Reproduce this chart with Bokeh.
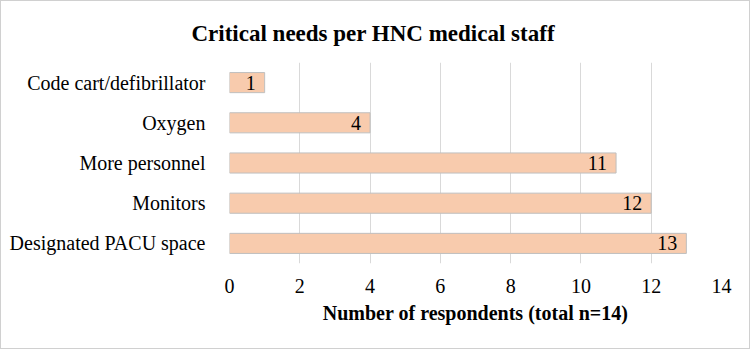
from bokeh.plotting import figure
from bokeh.models import ColumnDataSource, FactorRange, Range1d, FixedTicker, LabelSet
from bokeh.embed import file_html
from bokeh.resources import INLINE

categories = ["Code cart/defibrillator", "Oxygen", "More personnel", "Monitors", "Designated PACU space"]
values = [1, 4, 11, 12, 13]
x_ticks = [0, 2, 4, 6, 8, 10, 12, 14]

FONT = "Liberation Serif"

src = ColumnDataSource(data=dict(cat=categories, val=values, lbl=[str(v) for v in values]))

p = figure(width=750, height=349, output_backend="svg", toolbar_location=None,
           y_range=FactorRange(factors=list(reversed(categories)), range_padding=0),
           x_range=Range1d(0, 14),
           min_border_left=228, min_border_right=30, min_border_top=60, min_border_bottom=87,
           styles={"border": "1px solid #d0d0d0", "box-sizing": "border-box"})

p.hbar(y="cat", right="val", left=0, height=0.5, source=src,
       fill_color="#F8CBAD", line_color="#BFBFBF", line_width=1)

labels = LabelSet(x="val", y="cat", text="lbl", source=src, text_align="right",
                  text_baseline="middle", x_offset=-9, text_font=FONT,
                  text_font_size="20px", text_color="#000000")
p.add_layout(labels)

p.title.text = "Critical needs per HNC medical staff"
p.title.text_font = FONT
p.title.text_font_size = "23px"
p.title.text_font_style = "bold"
p.title.align = "left"
p.title.offset = -38
p.title.standoff = 34
p.title.text_line_height = 0.9
p.title.text_color = "#000000"

p.outline_line_color = None
p.background_fill_color = "white"
p.border_fill_color = "white"

p.xaxis.ticker = FixedTicker(ticks=x_ticks)
p.xaxis.axis_line_color = None
p.xaxis.major_tick_line_color = None
p.xaxis.minor_tick_line_color = None
p.xaxis.major_label_standoff = 9
p.xaxis.major_label_text_font = FONT
p.xaxis.major_label_text_font_size = "20px"
p.xaxis.major_label_text_color = "#000000"
p.xaxis.axis_label = "Number of respondents (total n=14)"
p.xaxis.axis_label_text_font = FONT
p.xaxis.axis_label_text_font_size = "20px"
p.xaxis.axis_label_text_font_style = "bold"
p.xaxis.axis_label_standoff = 6
p.xaxis.axis_label_text_color = "#000000"

p.yaxis.axis_line_color = None
p.yaxis.major_tick_line_color = None
p.yaxis.minor_tick_line_color = None
p.yaxis.major_label_standoff = 18
p.yaxis.major_label_text_font = FONT
p.yaxis.major_label_text_font_size = "20px"
p.yaxis.major_label_text_color = "#000000"

p.xgrid.grid_line_color = "#D9D9D9"
p.xgrid.grid_line_width = 1
p.ygrid.grid_line_color = None

open("out.html", "w").write(file_html(p, INLINE))
